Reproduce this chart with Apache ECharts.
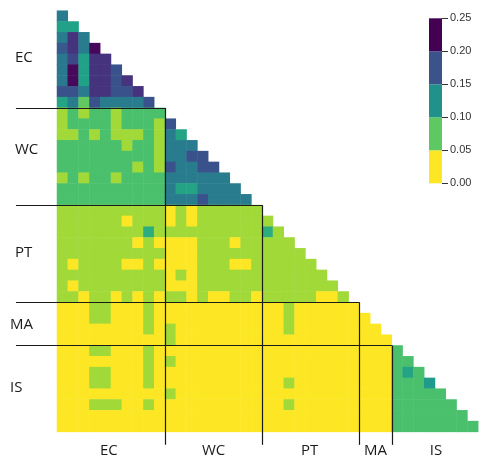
<!doctype html>
<html>
<head>
<meta charset="utf-8">
<style>
  html, body { margin: 0; padding: 0; background: #fff; }
  #main { width: 482px; height: 464px; }
</style>
</head>
<body>
<div id="main"></div>
<script src="https://cdn.jsdelivr.net/npm/echarts@6/dist/echarts.min.js"></script>
<script>
// groups of variables (rows are variables 1..39, columns 0..38)
var groups = ['EC', 'WC', 'PT', 'MA', 'IS'];
var groupRows = [9, 9, 9, 4, 8];
var groupCols = [10, 9, 9, 3, 8];
var rowLabelPos = [4.4, 12.9, 22.4, 29.1, 34.9];
var colLabelPos = [4.8, 14.5, 23.4, 29.5, 35.1];

// colour bar
var legendBins = [0, 0.05, 0.10, 0.15, 0.20, 0.25];
var legendColors = ['#fde725', '#5ec962', '#21918c', '#3b528b', '#440154'];
var viridis = ['#fde725', '#b5de2b', '#6ece58', '#35b779', '#1f9e89',
               '#26828e', '#31688e', '#3e4989', '#482878', '#440154'];

// lower triangle, one array per row
var ecRows = [
  [0.145],
  [0.108, 0.108],
  [0.145, 0.213, 0.145],
  [0.180, 0.213, 0.145, 0.245],
  [0.150, 0.195, 0.108, 0.213, 0.213],
  [0.150, 0.245, 0.108, 0.213, 0.213, 0.186],
  [0.150, 0.245, 0.108, 0.213, 0.213, 0.186, 0.213],
  [0.186, 0.186, 0.145, 0.213, 0.213, 0.186, 0.186, 0.213],
  [0.105, 0.145, 0.062, 0.186, 0.145, 0.145, 0.145, 0.145, 0.186]
];

var wcRows = [
  [0.036, 0.073, 0.036, 0.073, 0.073, 0.036, 0.073, 0.073, 0.073, 0.073],
  [0.036, 0.073, 0.073, 0.073, 0.073, 0.036, 0.073, 0.073, 0.073, 0.036, 0.186],
  [0.036, 0.036, 0.073, 0.036, 0.073, 0.036, 0.036, 0.036, 0.073, 0.036, 0.145, 0.105],
  [0.073, 0.073, 0.073, 0.073, 0.073, 0.073, 0.036, 0.073, 0.073, 0.036, 0.145, 0.145, 0.145],
  [0.073, 0.073, 0.073, 0.073, 0.073, 0.073, 0.073, 0.073, 0.073, 0.036, 0.145, 0.145, 0.186, 0.186],
  [0.073, 0.073, 0.073, 0.073, 0.073, 0.073, 0.073, 0.036, 0.073, 0.036, 0.186, 0.145, 0.145, 0.186, 0.186],
  [0.036, 0.073, 0.036, 0.073, 0.073, 0.036, 0.073, 0.073, 0.073, 0.073, 0.145, 0.145, 0.145, 0.145, 0.145, 0.145],
  [0.073, 0.073, 0.073, 0.073, 0.073, 0.073, 0.073, 0.073, 0.073, 0.073, 0.145, 0.105, 0.105, 0.145, 0.145, 0.145, 0.145],
  [0.073, 0.073, 0.073, 0.073, 0.073, 0.073, 0.073, 0.073, 0.073, 0.073, 0.145, 0.145, 0.145, 0.186, 0.145, 0.145, 0.145, 0.145]
];

var ptRows = [
  [0.036, 0.036, 0.036, 0.036, 0.036, 0.036, 0.036, 0.036, 0.036, 0.036, 0, 0.036, 0, 0.036, 0.036, 0.036, 0.036, 0.036, 0.036],
  [0.036, 0.036, 0.036, 0.036, 0.036, 0.036, 0, 0.036, 0.036, 0.036, 0, 0.036, 0, 0.036, 0.036, 0.036, 0.036, 0.036, 0.036, 0.036],
  [0.036, 0.036, 0.036, 0.036, 0.036, 0.036, 0.036, 0.036, 0.095, 0.036, 0.036, 0.036, 0.036, 0.036, 0.036, 0.036, 0.036, 0.036, 0.036, 0.095, 0.036],
  [0.036, 0.036, 0.036, 0.036, 0.036, 0.036, 0.036, 0, 0.036, 0, 0, 0, 0, 0.036, 0.036, 0.036, 0, 0.036, 0.036, 0.036, 0.036, 0.036],
  [0.036, 0.036, 0.036, 0.036, 0.036, 0.036, 0.036, 0.036, 0.036, 0.036, 0, 0, 0, 0.036, 0.036, 0.036, 0.036, 0.036, 0.036, 0.036, 0.036, 0.036, 0.036],
  [0.036, 0, 0.036, 0.036, 0.036, 0.036, 0, 0, 0.036, 0, 0, 0, 0, 0.036, 0.036, 0.036, 0, 0, 0.036, 0.036, 0.036, 0.036, 0.036, 0.036],
  [0.036, 0.036, 0.036, 0.036, 0.036, 0.036, 0.036, 0.036, 0.036, 0.036, 0, 0.036, 0, 0.036, 0.036, 0.036, 0.036, 0.036, 0.036, 0.036, 0.036, 0.036, 0.036, 0.036, 0.036],
  [0.036, 0, 0.036, 0.036, 0.036, 0.036, 0.036, 0.036, 0.036, 0.036, 0, 0, 0, 0.036, 0.036, 0.036, 0.036, 0.036, 0.036, 0.036, 0.036, 0.036, 0.036, 0.036, 0.036, 0.036],
  [0.036, 0.036, 0, 0.036, 0.036, 0, 0.036, 0, 0.036, 0, 0.036, 0.036, 0, 0.036, 0, 0, 0.036, 0.036, 0, 0.036, 0.036, 0.036, 0.036, 0.036, 0, 0, 0.036]
];

var maRows = [
  [0, 0, 0, 0.036, 0.036, 0, 0, 0, 0.036, 0, 0, 0, 0, 0, 0, 0, 0, 0, 0, 0, 0, 0.036, 0, 0, 0, 0, 0, 0],
  [0, 0, 0, 0.036, 0.036, 0, 0, 0, 0.036, 0, 0, 0, 0, 0, 0, 0, 0, 0, 0, 0, 0, 0.036, 0, 0, 0, 0, 0, 0, 0],
  [0, 0, 0, 0, 0, 0, 0, 0, 0.036, 0, 0.036, 0, 0, 0, 0, 0, 0, 0, 0, 0, 0, 0.036, 0, 0, 0, 0, 0, 0, 0, 0],
  [0, 0, 0, 0, 0, 0, 0, 0, 0, 0, 0.036, 0, 0, 0, 0, 0, 0, 0, 0, 0, 0, 0, 0, 0, 0, 0, 0, 0, 0, 0, 0]
];

var isRows = [
  [0, 0, 0, 0.036, 0.036, 0, 0, 0, 0.036, 0, 0, 0, 0, 0, 0, 0, 0, 0, 0, 0, 0, 0, 0, 0, 0, 0, 0, 0, 0, 0, 0, 0.073],
  [0, 0, 0, 0, 0, 0, 0, 0, 0.036, 0, 0.036, 0, 0, 0, 0, 0, 0, 0, 0, 0, 0, 0, 0, 0, 0, 0, 0, 0, 0, 0, 0, 0.073, 0.073],
  [0, 0, 0, 0.036, 0.036, 0, 0, 0, 0.036, 0, 0, 0, 0, 0, 0, 0, 0, 0, 0, 0, 0, 0, 0, 0, 0, 0, 0, 0, 0, 0, 0, 0.073, 0.105, 0.073],
  [0, 0, 0, 0.036, 0.036, 0, 0, 0, 0.036, 0, 0, 0, 0, 0, 0, 0, 0, 0, 0, 0, 0, 0.036, 0, 0, 0, 0, 0, 0, 0, 0, 0, 0.073, 0.073, 0.073, 0.115],
  [0, 0, 0, 0, 0, 0, 0, 0, 0, 0, 0.036, 0, 0, 0, 0, 0, 0, 0, 0, 0, 0, 0, 0, 0, 0, 0, 0, 0, 0, 0, 0, 0.073, 0.073, 0.073, 0.073, 0.073],
  [0, 0, 0, 0.036, 0.036, 0.036, 0, 0, 0.036, 0, 0, 0, 0, 0, 0, 0, 0, 0, 0, 0, 0, 0.036, 0, 0, 0, 0, 0, 0, 0, 0, 0, 0.073, 0.073, 0.073, 0.073, 0.073, 0.073],
  [0, 0, 0, 0, 0, 0, 0, 0, 0, 0, 0, 0, 0, 0, 0, 0, 0, 0, 0, 0, 0, 0, 0, 0, 0, 0, 0, 0, 0, 0, 0, 0.073, 0.073, 0.073, 0.073, 0.073, 0.073, 0.073],
  [0, 0, 0, 0, 0, 0, 0, 0, 0, 0, 0, 0, 0, 0, 0, 0, 0, 0, 0, 0, 0, 0, 0, 0, 0, 0, 0, 0, 0, 0, 0, 0.073, 0.073, 0.073, 0.073, 0.073, 0.073, 0.073, 0.073]
];

var rows = ecRows.concat(wcRows, ptRows, maRows, isRows);
var n = rows.length;

var cells = [];
rows.forEach(function (row, r) {
  row.forEach(function (v, c) { cells.push([c, r, v]); });
});

var idx = [];
for (var i = 0; i < n; i++) idx.push(String(i));

// separator lines at group edges
var sepLines = [];
var re = 0, ce = 0;
for (var g = 0; g < groups.length - 1; g++) {
  re += groupRows[g];
  ce += groupCols[g];
  sepLines.push({ coords: [[-3.8, re], [ce, re]] });
  sepLines.push({ coords: [[ce, re], [ce, n + 1.2]] });
}

function groupAt(list, v) {
  for (var k = 0; k < list.length; k++) {
    if (Math.abs(list[k] - v) < 1e-6) return k;
  }
  return -1;
}

var labelFont = { fontFamily: 'Open Sans', fontSize: 15, color: '#1a1a1a' };

var chart = echarts.init(document.getElementById('main'));

var series = [{
  type: 'heatmap',
  xAxisIndex: 0,
  yAxisIndex: 0,
  data: cells,
  itemStyle: { borderWidth: 0 },
  emphasis: { disabled: true },
  silent: true
}, {
  type: 'lines',
  coordinateSystem: 'cartesian2d',
  xAxisIndex: 1,
  yAxisIndex: 1,
  clip: false,
  silent: true,
  data: sepLines,
  lineStyle: { color: '#1a1a1a', width: 1.2, opacity: 1 }
}];

legendColors.forEach(function (col, i) {
  series.push({
    type: 'bar',
    xAxisIndex: 2,
    yAxisIndex: 2,
    stack: 'bar',
    barWidth: '100%',
    silent: true,
    data: [legendBins[i + 1] - legendBins[i]],
    itemStyle: { color: col }
  });
});

chart.setOption({
  animation: false,
  grid: [
    { left: 57, top: 10.7, width: 421.2, height: 421.2 },
    { left: 429, top: 18.3, width: 13, height: 165 }
  ],
  xAxis: [{
    type: 'category', gridIndex: 0, data: idx, show: false
  }, {
    type: 'value', gridIndex: 0, min: 0, max: n, position: 'bottom',
    axisLine: { show: false }, axisTick: { show: false }, splitLine: { show: false },
    axisLabel: Object.assign({
      show: true,
      customValues: colLabelPos,
      margin: 11,
      formatter: function (v) { var k = groupAt(colLabelPos, v); return k < 0 ? '' : groups[k]; }
    }, labelFont)
  }, {
    type: 'category', gridIndex: 1, data: ['bar'], show: false
  }],
  yAxis: [{
    type: 'category', gridIndex: 0, data: idx, inverse: true, show: false
  }, {
    type: 'value', gridIndex: 0, min: 0, max: n, inverse: true, position: 'left',
    axisLine: { show: false }, axisTick: { show: false }, splitLine: { show: false },
    axisLabel: Object.assign({
      show: true,
      customValues: rowLabelPos,
      margin: 47,
      align: 'left',
      formatter: function (v) {
        var k = groupAt(rowLabelPos, v);
        if (k < 0) return '';
        return k < 3 ? '{s|' + groups[k] + '}' : groups[k];
      },
      rich: { s: { padding: [0, 0, 0, 5], fontFamily: 'Open Sans', fontSize: 15, color: '#1a1a1a' } }
    }, labelFont)
  }, {
    type: 'value', gridIndex: 1, min: 0, max: 0.25, interval: 0.05, position: 'right',
    axisLine: { show: false },
    axisTick: { show: true, length: 6, lineStyle: { color: '#333' } },
    splitLine: { show: false },
    axisLabel: {
      margin: 8, fontFamily: 'Liberation Sans', fontSize: 11, color: '#333',
      formatter: function (v) { return v.toFixed(2); }
    }
  }],
  visualMap: [{
    type: 'continuous', show: false, seriesIndex: 0,
    min: 0, max: 0.25, inRange: { color: viridis }
  }],
  series: series
});

window.onresize = chart.resize;
</script>
</body>
</html>
